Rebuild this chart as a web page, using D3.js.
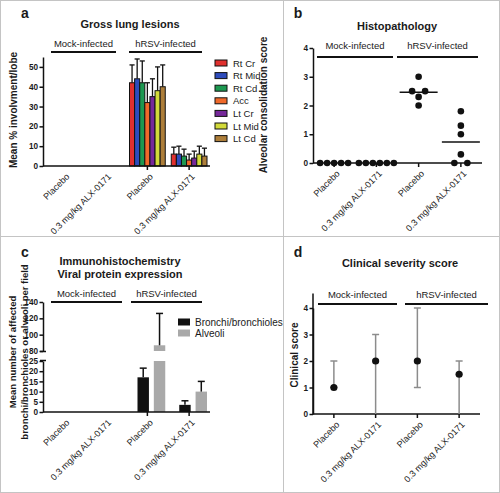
<!DOCTYPE html>
<html><head><meta charset="utf-8">
<script src="https://cdn.jsdelivr.net/npm/d3@7"></script>
<style>
body{margin:0;background:#fff}
svg text{font-family:"Liberation Sans",Arial,sans-serif;fill:#1a1a1a}
</style></head>
<body><svg id="c" width="500" height="493"></svg>
<script>
// ---------- data ----------
const categories = ["Placebo","0.3 mg/kg ALX-0171","Placebo","0.3 mg/kg ALX-0171"];
const groups = ["Mock-infected","hRSV-infected"];

// panel a
const lobes = ["Rt Cr","Rt Mid","Rt Cd","Acc","Lt Cr","Lt Mid","Lt Cd"];
const lobeColors = ["#e0302e","#2e4cbc","#1c9850","#f0692a","#76289a","#d2da3a","#ad7e3a"];
const grossMean = [[0,0,0,0,0,0,0],[0,0,0,0,0,0,0],[42,44,42,32,35,38,40],[6,6,5,3,4,6,5]];
const grossErr  = [[0,0,0,0,0,0,0],[0,0,0,0,0,0,0],[9,10,11,10,9,12,11],[3.5,4,3.5,3,3.5,4,4]];
const grossTicks = [0,10,20,30,40,50];

// panel b
const histoScores = [[0,0,0,0,0],[0,0,0,0,0,0],[2.0,2.3,2.5,2.5,3.0],[0,0,0.3,1.0,1.3,1.8]];
const histoTicks = [0,1,2,3,4];

// panel c
const ihcSeries = ["Bronchi/bronchioles","Alveoli"];
const ihcColors = ["#111111","#a9a9a9"];
const ihcMean = [[0,0],[0,0],[17,87],[3.5,10]];
const ihcErr  = [[0,0],[0,0],[4.5,39],[2,5]];
const ihcTicksLow = [0,5,10,15,20,25];
const ihcTicksHigh = [80,100,120,140];

// panel d
const clinMean = [1,2,2,1.5];
const clinMin  = [1,0,1,0];
const clinMax  = [2,3,4,2];
const clinTicks = [0,1,2,3,4];

// ---------- drawing ----------
const svg = d3.select("#c");
const F = "'Liberation Sans',Arial,sans-serif";

// frames
svg.append("rect").attr("x",0.5).attr("y",0.5).attr("width",499).attr("height",492)
  .attr("fill","none").attr("stroke","#c4c4c4");
svg.append("line").attr("x1",283.5).attr("x2",283.5).attr("y1",0).attr("y2",493).attr("stroke","#c4c4c4");
svg.append("line").attr("x1",0).attr("x2",500).attr("y1",236.5).attr("y2",236.5).attr("stroke","#c4c4c4");

function txt(x,y,s,size,weight,anchor){
  return svg.append("text").attr("x",x).attr("y",y).text(s)
    .attr("font-size",size).attr("font-weight",weight||"normal").attr("text-anchor",anchor||"middle");
}
function yLabel(x,cy,lines,size){
  const t = svg.append("text").attr("transform",`translate(${x},${cy}) rotate(-90)`)
    .attr("text-anchor","middle").attr("font-size",size).attr("font-weight","bold");
  lines.forEach((l,i)=>t.append("tspan").attr("x",0).attr("dy",i?12:0).text(l));
}
function groupHeaders(xs, y, lineY, segs){
  groups.forEach((g,i)=>{
    txt((segs[i][0]+segs[i][1])/2, y, g, 9.5, "normal");
    svg.append("line").attr("x1",segs[i][0]).attr("x2",segs[i][1]).attr("y1",lineY).attr("y2",lineY)
      .attr("stroke","#111").attr("stroke-width",2);
  });
}
function yAxis(scale, ticks, x){
  const g = svg.append("g").attr("transform",`translate(${x},0)`)
    .call(d3.axisLeft(scale).tickValues(ticks).tickFormat(d3.format("d")).tickSize(3.5).tickPadding(1.5).tickSizeOuter(0));
  g.selectAll("text").attr("font-size",8.2).attr("font-weight","bold").attr("font-family",F).attr("fill","#1a1a1a");
  g.selectAll("line,path").attr("stroke","#111").attr("stroke-width",1.5);
  return g;
}
function xAxis(xs, y, tickIdx){
  const [a,b] = xs.range();
  svg.append("line").attr("x1",a).attr("x2",b).attr("y1",y).attr("y2",y).attr("stroke","#111").attr("stroke-width",1.5);
  categories.forEach((c,i)=>{
    const cx = xs(i)+xs.bandwidth()/2;
    if(tickIdx.includes(i))
      svg.append("line").attr("x1",cx).attr("x2",cx).attr("y1",y).attr("y2",y+4).attr("stroke","#111").attr("stroke-width",1.5);
    svg.append("text").attr("transform",`translate(${cx+4},${y+9}) rotate(-45)`)
      .attr("text-anchor","end").attr("font-size",9).attr("dy","0.35em").text(c);
  });
}

// ===== panel a =====
{
  const x = d3.scaleBand().domain(d3.range(4)).range([43,210]);
  const y = d3.scaleLinear().domain([0,55]).range([166,57]);
  txt(25,18,"a",14,"bold");
  txt(130,28,"Gross lung lesions",11,"bold");
  groupHeaders(x,47,52,[[51,116],[129,202]]);
  yLabel(17,110,["Mean % involvment/lobe"],10);
  const inner = d3.scaleBand().domain(d3.range(lobes.length)).range([3,x.bandwidth()-3]).padding(0);
  grossMean.forEach((vals,ci)=>{
    vals.forEach((v,li)=>{
      if(v<=0) return;
      const bx = x(ci)+inner(li), bw = inner.bandwidth();
      const top = v+grossErr[ci][li];
      svg.append("line").attr("x1",bx+bw/2).attr("x2",bx+bw/2).attr("y1",y(v)).attr("y2",y(top)).attr("stroke","#111").attr("stroke-width",1.3);
      svg.append("line").attr("x1",bx).attr("x2",bx+bw).attr("y1",y(top)).attr("y2",y(top)).attr("stroke","#111").attr("stroke-width",1.3);
      svg.append("rect").attr("x",bx).attr("y",y(v)).attr("width",bw).attr("height",y(0)-y(v))
        .attr("fill",lobeColors[li]).attr("stroke","#111").attr("stroke-width",1);
    });
  });
  yAxis(y,grossTicks,43);
  xAxis(x,166,[2,3]);
  lobes.forEach((l,i)=>{
    const ly = 63+i*12.6;
    svg.append("rect").attr("x",215).attr("y",ly-3).attr("width",12).attr("height",6)
      .attr("fill",lobeColors[i]).attr("stroke","#111").attr("stroke-width",1);
    txt(233,ly+3.5,l,9.5,"normal","start");
  });
}

// ===== panel b =====
{
  const x = d3.scaleBand().domain(d3.range(4)).range([313,482]);
  const y = d3.scaleLinear().domain([0,4]).range([163,48]);
  txt(298,18,"b",14,"bold");
  txt(397,30,"Histopathology",11,"bold");
  groupHeaders(x,49,57,[[317,393],[397,478]]);
  yLabel(267,105,["Alveolar consolidation score"],10);
  yAxis(y,histoTicks,313);
  xAxis(x,163,[0,1,2,3]);
  const r = 3.3, minD = 8;
  histoScores.forEach((vals,ci)=>{
    const cx = x(ci)+x.bandwidth()/2;
    const placed = [];
    const uniq = Array.from(new Set(vals)).sort((a,b)=>b-a);
    uniq.forEach(v=>{
      const n = vals.filter(d=>d===v).length;
      for(let k=1;k<10;k++){
        const step = (n>2?7:13)*k;
        const pts = d3.range(n).map(i=>({x:cx+(i-(n-1)/2)*(n>1?step:0), y:y(v)}));
        const ok = pts.every(p=>placed.every(q=>Math.hypot(p.x-q.x,p.y-q.y)>=minD));
        if(ok||n===1||k===9||n>2){ placed.push(...pts); break; }
      }
    });
    placed.forEach(p=>svg.append("circle").attr("cx",p.x).attr("cy",p.y).attr("r",r).attr("fill","#111"));
    const m = d3.mean(vals);
    if(m>0) svg.append("line").attr("x1",cx-19).attr("x2",cx+19).attr("y1",y(m)).attr("y2",y(m)).attr("stroke","#111").attr("stroke-width",1.5);
  });
}

// ===== panel c =====
{
  const x = d3.scaleBand().domain(d3.range(4)).range([43,210]);
  const yLow = d3.scaleLinear().domain([0,25]).range([412,361]);
  const yHigh = d3.scaleLinear().domain([80,140]).range([351,302]);
  txt(25,257,"c",14,"bold");
  txt(120,265,"Immunohistochemistry",11,"bold");
  txt(120,278,"Viral protein expression",11,"bold");
  groupHeaders(x,297,302,[[51,122],[131,202]]);
  yLabel(16,352,["Mean number of affected","bronchi/bronchioles or alveoli per field"],9.5);
  const inner = d3.scaleBand().domain(d3.range(2)).range([11,x.bandwidth()-3]).paddingInner(0.3);
  ihcMean.forEach((vals,ci)=>{
    vals.forEach((v,si)=>{
      if(v<=0) return;
      const bx = x(ci)+inner(si), bw = inner.bandwidth(), mx = bx+bw/2;
      const top = v+ihcErr[ci][si];
      const col = ihcColors[si];
      if(v<=25){
        svg.append("rect").attr("x",bx).attr("y",yLow(v)).attr("width",bw).attr("height",yLow(0)-yLow(v)).attr("fill",col);
        svg.append("line").attr("x1",mx).attr("x2",mx).attr("y1",yLow(v)).attr("y2",yLow(top)).attr("stroke","#111").attr("stroke-width",1.5);
        svg.append("line").attr("x1",mx-3.5).attr("x2",mx+3.5).attr("y1",yLow(top)).attr("y2",yLow(top)).attr("stroke","#111").attr("stroke-width",1.5);
      } else {
        svg.append("rect").attr("x",bx).attr("y",yLow(25)).attr("width",bw).attr("height",yLow(0)-yLow(25)).attr("fill",col);
        svg.append("rect").attr("x",bx).attr("y",yHigh(v)).attr("width",bw).attr("height",yHigh(80)-yHigh(v)).attr("fill",col);
        svg.append("line").attr("x1",mx).attr("x2",mx).attr("y1",yHigh(v)).attr("y2",yHigh(top)).attr("stroke","#111").attr("stroke-width",1.5);
        svg.append("line").attr("x1",mx-3.5).attr("x2",mx+3.5).attr("y1",yHigh(top)).attr("y2",yHigh(top)).attr("stroke","#111").attr("stroke-width",1.5);
      }
    });
  });
  yAxis(yLow,ihcTicksLow,43);
  yAxis(yHigh,ihcTicksHigh,43);
  [yHigh(80)+0.5, yLow(25)-0.5].forEach(yy=>svg.append("line").attr("x1",40).attr("x2",46).attr("y1",yy).attr("y2",yy).attr("stroke","#111").attr("stroke-width",1.5));
  xAxis(x,412,[2,3]);
  ihcSeries.forEach((s,i)=>{
    const ly = 322+i*11;
    svg.append("rect").attr("x",178).attr("y",ly-3.5).attr("width",12).attr("height",7).attr("fill",ihcColors[i]);
    txt(195,ly+3.5,s,10,"normal","start");
  });
}

// ===== panel d =====
{
  const x = d3.scaleBand().domain(d3.range(4)).range([313,480]);
  const y = d3.scaleLinear().domain([0,4]).range([414,308]);
  txt(298,257,"d",14,"bold");
  txt(400,267,"Clinical severity score",11,"bold");
  groupHeaders(x,298,304,[[318,397],[405,488]]);
  yLabel(298,355,["Clinical score"],10);
  svg.append("line").attr("x1",313).attr("x2",313).attr("y1",y(4.55)).attr("y2",y(0)).attr("stroke","#111").attr("stroke-width",1.5);
  yAxis(y,clinTicks,313);
  xAxis(x,414,[0,1,2,3]);
  clinMean.forEach((m,i)=>{
    const cx = x(i)+x.bandwidth()/2;
    svg.append("line").attr("x1",cx).attr("x2",cx).attr("y1",y(clinMin[i])).attr("y2",y(clinMax[i])).attr("stroke","#8c8c8c").attr("stroke-width",1.5);
    [clinMin[i],clinMax[i]].forEach(v=>{ if(v>0) svg.append("line").attr("x1",cx-3.5).attr("x2",cx+3.5).attr("y1",y(v)).attr("y2",y(v)).attr("stroke","#8c8c8c").attr("stroke-width",1.5); });
    svg.append("circle").attr("cx",cx).attr("cy",y(m)).attr("r",3.6).attr("fill","#111");
  });
}
</script></body></html>
